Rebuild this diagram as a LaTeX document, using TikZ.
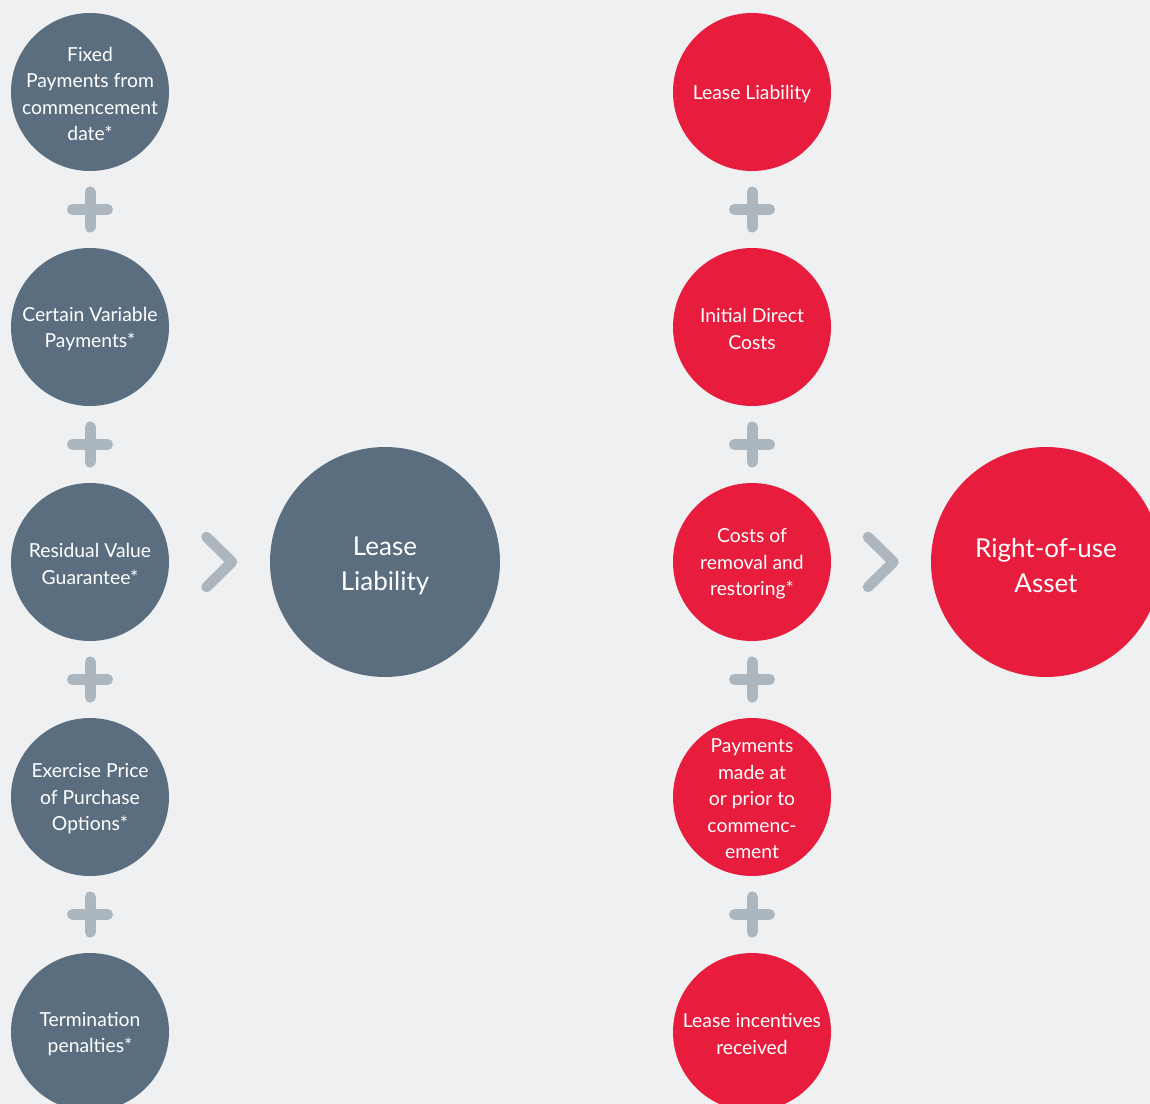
\documentclass[tikz,border=0pt]{standalone}
\usepackage{fontspec}
\setmainfont{Lato}
\usepackage{xcolor}
\usepackage{tikz}
\usetikzlibrary{positioning,calc}
\definecolor{bgc}{RGB}{238,240,242}
\definecolor{slate}{RGB}{91,110,127}
\definecolor{crimson}{RGB}{232,28,61}
\definecolor{markc}{RGB}{172,182,191}
\tikzset{
  dot/.style={circle,minimum size=3.16cm,inner sep=0pt,outer sep=0pt},
  sdot/.style={dot,fill=slate},
  rdot/.style={dot,fill=crimson},
  big/.style={circle,minimum size=4.6cm,inner sep=0pt,outer sep=0pt},
  ct/.style={align=center,text=white,font=\fontsize{11}{15.1}\selectfont,inner sep=0pt,yshift=-0.04cm},
  bt/.style={align=center,text=white,font=\fontsize{14.8}{19.9}\selectfont,inner sep=0pt,yshift=-0.08cm},
  pls/.style={draw=markc,line width=0.22cm,line cap=round},
  chev/.style={draw=markc,line width=0.21cm,line cap=round,line join=round},
}
\newcommand{\plussign}[1]{%
  \draw[pls] ($(#1)+(-0.35,0)$) -- ($(#1)+(0.35,0)$) ($(#1)+(0,-0.35)$) -- ($(#1)+(0,0.35)$);}
\newcommand{\chevron}[1]{%
  \draw[chev] ($(#1)+(-0.26,0.5)$) -- ($(#1)+(0.25,0)$) -- ($(#1)+(-0.26,-0.5)$);}

\begin{document}
\begin{tikzpicture}
  \clip (0,0) rectangle (23,-22.08);
  \fill[bgc] (0,0) rectangle (23,-22.08);
  % lease liability side
  \node[sdot,label={[ct]center:Fixed\\Payments from\\commencement\\date*}] (f1) at (1.8,-1.84) {};
  \node[sdot,below=1.54cm of f1,label={[ct]center:Certain Variable\\Payments*}] (f2) {};
  \node[sdot,below=1.54cm of f2,label={[ct]center:Residual Value\\Guarantee*}] (f3) {};
  \node[sdot,below=1.54cm of f3,label={[ct]center:Exercise Price\\of Purchase\\Options*}] (f4) {};
  \node[sdot,below=1.54cm of f4,label={[ct]center:Termination\\penalties*}] (f5) {};
  \node[big,fill=slate,right=2.02cm of f3,label={[bt]center:Lease\\Liability}] (ll) {};
  % right-of-use side
  \node[rdot,label={[ct]center:Lease Liability}] (r1) at (15.04,-1.84) {};
  \node[rdot,below=1.54cm of r1,label={[ct]center:Initial Direct\\Costs}] (r2) {};
  \node[rdot,below=1.54cm of r2,label={[ct]center:Costs of\\removal and\\restoring*}] (r3) {};
  \node[rdot,below=1.54cm of r3,label={[ct]center:Payments\\made at\\or prior to\\commenc-\\ement}] (r4) {};
  \node[rdot,below=1.54cm of r4,label={[ct]center:Lease incentives\\received}] (r5) {};
  \node[big,fill=crimson,right=2.0cm of r3,label={[bt]center:Right-of-use\\Asset}] (rou) {};
  % plus signs and chevrons
  \foreach \a/\b in {f1/f2,f2/f3,f3/f4,f4/f5,r1/r2,r2/r3,r3/r4,r4/r5}{
    \coordinate (p\a) at ($(\a)!0.5!(\b)$);
    \plussign{p\a}
  }
  \coordinate (m1) at ($(f3.east)!0.5!(ll.west)$);
  \coordinate (m2) at ($(r3.east)!0.5!(rou.west)$);
  \chevron{m1}
  \chevron{m2}
\end{tikzpicture}
\end{document}
